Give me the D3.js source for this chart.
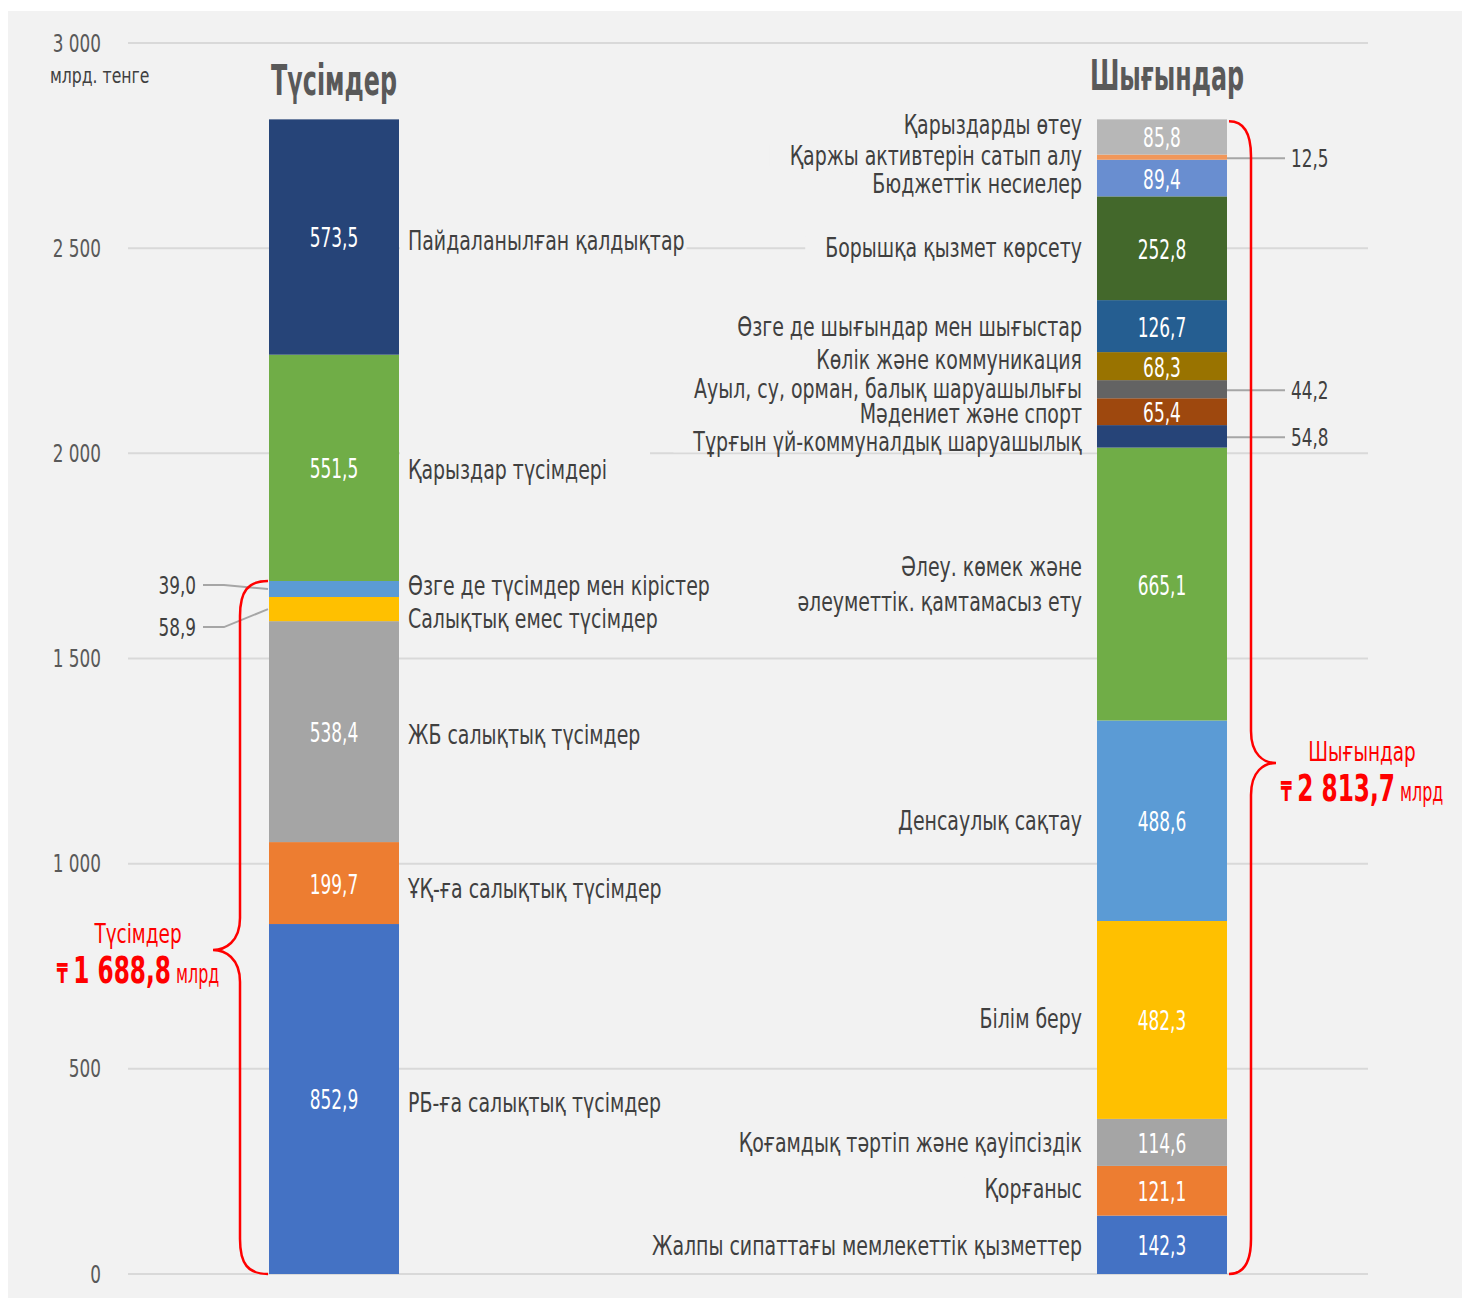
<!DOCTYPE html>
<html>
<head>
<meta charset="utf-8">
<script src="https://cdn.jsdelivr.net/npm/d3@7"></script>
<style>
  body { margin: 0; background: #fff; }
  text { font-family: "DejaVu Sans Condensed", "DejaVu Sans", sans-serif; }
</style>
</head>
<body>
<script>
var yTicks = [0, 500, 1000, 1500, 2000, 2500, 3000];
var barNames = ["Түсімдер", "Шығындар"];
var totals = [1688.8, 2813.7];

// revenues, bottom to top
var revenueLabels = ["РБ-ға салықтық түсімдер", "ҰҚ-ға салықтық түсімдер", "ЖБ салықтық түсімдер",
  "Салықтық емес түсімдер", "Өзге де түсімдер мен кірістер", "Қарыздар түсімдері", "Пайдаланылған қалдықтар"];
var revenueValues = [852.9, 199.7, 538.4, 58.9, 39.0, 551.5, 573.5];
var revenueColors = ["#4472c4", "#ed7d31", "#a5a5a5", "#ffc000", "#5b9bd5", "#70ad47", "#264478"];

// expenses, bottom to top
var expenseLabels = ["Жалпы сипаттағы мемлекеттік қызметтер", "Қорғаныс", "Қоғамдық тәртіп және қауіпсіздік",
  "Білім беру", "Денсаулық сақтау", "Әлеу. көмек және|әлеуметтік. қамтамасыз ету",
  "Тұрғын үй-коммуналдық шаруашылық", "Мәдениет және спорт", "Ауыл, су, орман, балық шаруашылығы",
  "Көлік және коммуникация", "Өзге де шығындар мен шығыстар", "Борышқа қызмет көрсету",
  "Бюджеттік несиелер", "Қаржы активтерін сатып алу", "Қарыздарды өтеу"];
var expenseValues = [142.3, 121.1, 114.6, 482.3, 488.6, 665.1, 54.8, 65.4, 44.2, 68.3, 126.7, 252.8, 89.4, 12.5, 85.8];
var expenseColors = ["#4472c4", "#ed7d31", "#a5a5a5", "#ffc000", "#5b9bd5", "#70ad47", "#264478",
  "#9e480e", "#636363", "#997300", "#255e91", "#43682b", "#698ed0", "#f1975a", "#b7b7b7"];

// small nudges (px) so labels don't collide
var revenueLabelShift = [4, 5, 3, 9, -3, 2, 4];
var expenseLabelShift = [1, -2, 0, -1, 0, 0, 5, 2, -1, -7, 0, -1, 5, -2, -12];
var revenueValueShift = [0, 0, 0, 18, -4, 0, 0];

var W = 1464, H = 1301;
var locale = d3.formatLocale({ decimal: ",", thousands: "\u00a0", grouping: [3], currency: ["", ""] });
var fmtVal = locale.format(".1f");
var fmtTick = locale.format(",.0f");

var svg = d3.select("body").append("svg").attr("width", W).attr("height", H);

svg.append("rect").attr("x", 8).attr("y", 11).attr("width", 1454).attr("height", 1287).attr("fill", "#f2f2f2");

var y = d3.scaleLinear().domain([0, 3000]).range([1274, 43]);
var x = d3.scalePoint().domain(barNames).range([334, 1162]);
var barW = 130;

// the source font is a narrow one, so squeeze DejaVu horizontally
function txt(parent, px, py, str, size, sx, anchor, fill, weight) {
  return parent.append("text")
    .attr("transform", "translate(" + px + "," + py + ") scale(" + sx + ",1)")
    .attr("dy", "0.35em")
    .attr("text-anchor", anchor || "start")
    .attr("font-size", size)
    .attr("font-weight", weight || "normal")
    .attr("fill", fill || "#404040")
    .text(str);
}

// gridlines
svg.append("g").selectAll("line").data(yTicks).enter().append("line")
  .attr("x1", 128).attr("x2", 1368)
  .attr("y1", function (d) { return y(d); }).attr("y2", function (d) { return y(d); })
  .attr("stroke", "#d9d9d9").attr("stroke-width", 2);

// y axis labels
var yAxis = d3.axisLeft(y).tickValues(yTicks).tickFormat(fmtTick).tickSize(0).tickPadding(0);
var axisG = svg.append("g").attr("transform", "translate(101,0)").call(yAxis);
axisG.select(".domain").remove();
axisG.selectAll("text").attr("font-size", 25).attr("fill", "#595959")
  .attr("transform", "scale(0.75,1)")
  .attr("font-family", "DejaVu Sans Condensed, DejaVu Sans, sans-serif");

txt(svg, 50, 76, "млрд. тенге", 21, 0.83);

function stackUp(values) {
  var acc = 0;
  return values.map(function (v) { var s = { y0: acc, y1: acc + v, v: v }; acc += v; return s; });
}
function mid(d) { return (y(d.y0) + y(d.y1)) / 2; }

function drawBar(name, values, colors) {
  var segs = stackUp(values);
  var cx = x(name);
  var g = svg.append("g");
  g.selectAll("rect").data(segs).enter().append("rect")
    .attr("x", cx - barW / 2).attr("width", barW)
    .attr("y", function (d) { return y(d.y1); })
    .attr("height", function (d) { return y(d.y0) - y(d.y1); })
    .attr("fill", function (d, i) { return colors[i]; });
  segs.forEach(function (d) {
    if (d.v < 60) return;
    txt(g, cx, mid(d) + 1, fmtVal(d.v), 27, 0.7, "middle", "#fff");
  });
  return segs;
}

var revSegs = drawBar("Түсімдер", revenueValues, revenueColors);
var expSegs = drawBar("Шығындар", expenseValues, expenseColors);

var catSize = 27, catScale = 0.78;

// revenue category labels (left aligned, right of bar)
revSegs.forEach(function (d, i) {
  var cy = mid(d) + revenueLabelShift[i];
  var t = txt(svg, 408, cy, revenueLabels[i], catSize, catScale);
  var w = t.node().getComputedTextLength() * catScale;
  svg.insert("rect", function () { return t.node(); })
    .attr("x", 400).attr("y", cy - 19).attr("width", Math.max(w + 10, 250)).attr("height", 38)
    .attr("fill", "#f2f2f2");
});

// expense category labels (right aligned, left of bar)
var labelRight = 1082;
expSegs.forEach(function (d, i) {
  var cy = mid(d) + expenseLabelShift[i];
  var lines = expenseLabels[i].split("|");
  lines.forEach(function (l, k) {
    var ly = cy + (k - (lines.length - 1) / 2) * 35;
    var t = txt(svg, labelRight, ly, l, catSize, catScale, "end");
    if (lines.length === 1) {
      var w = t.node().getComputedTextLength() * catScale;
      svg.insert("rect", function () { return t.node(); })
        .attr("x", labelRight - w - 20).attr("y", ly - 11).attr("width", w + 35).attr("height", 22)
        .attr("fill", "#f2f2f2");
    }
  });
});

// small revenue values with leader lines on the left
var leftEdge = x("Түсімдер") - barW / 2 - 1;
revSegs.forEach(function (d, i) {
  if (d.v >= 60) return;
  var ty = mid(d) + revenueValueShift[i];
  svg.append("path").attr("d", "M203," + ty + "L224," + ty + "L" + leftEdge + "," + mid(d))
    .attr("fill", "none").attr("stroke", "#a6a6a6").attr("stroke-width", 2);
  txt(svg, 196, ty, fmtVal(d.v), 25, 0.75, "end");
});

// small expense values with leader lines on the right
var rightEdge = x("Шығындар") + barW / 2;
expSegs.forEach(function (d) {
  if (d.v >= 60) return;
  var ty = mid(d) + 1;
  svg.append("line").attr("x1", rightEdge).attr("x2", 1285).attr("y1", ty).attr("y2", ty)
    .attr("stroke", "#a6a6a6").attr("stroke-width", 2);
  txt(svg, 1291, ty, fmtVal(d.v), 25, 0.75, "start");
});

// titles
txt(svg, x("Түсімдер"), 80, barNames[0], 42, 0.63, "middle", "#595959", "bold");
txt(svg, x("Шығындар") + 5, 75, barNames[1], 42, 0.63, "middle", "#595959", "bold");

// braces
function brace(xEdge, xLine, xTip, top, bottom, tip) {
  var s = xLine < xEdge ? 1 : -1;
  return "M" + xEdge + "," + top +
    "C" + (xLine + s * 8) + "," + top + " " + xLine + "," + (top + 10) + " " + xLine + "," + (top + 35) +
    "L" + xLine + "," + (tip - 32) +
    "C" + xLine + "," + (tip - 8) + " " + (xTip + s * 12) + "," + tip + " " + xTip + "," + tip +
    "C" + (xTip + s * 12) + "," + tip + " " + xLine + "," + (tip + 8) + " " + xLine + "," + (tip + 32) +
    "L" + xLine + "," + (bottom - 35) +
    "C" + xLine + "," + (bottom - 10) + " " + (xLine + s * 8) + "," + bottom + " " + xEdge + "," + bottom;
}
var revTop = y(d3.sum(revenueValues.slice(0, 5)));
svg.append("path").attr("d", brace(268, 240, 213, revTop, y(0), 950))
  .attr("fill", "none").attr("stroke", "#ff0000").attr("stroke-width", 2.5);
svg.append("path").attr("d", brace(1229, 1251, 1276, y(d3.sum(expenseValues)) + 2, y(0), 763))
  .attr("fill", "none").attr("stroke", "#ff0000").attr("stroke-width", 2.5);

function totalLabel(cx, cyName, name, total) {
  txt(svg, cx, cyName, name, 27, 0.76, "middle", "#ff0000");
  var t = txt(svg, cx, cyName + 40, "", 26, 0.68, "middle", "#ff0000");
  t.append("tspan").attr("font-weight", "bold").text("₸ ");
  t.append("tspan").attr("font-size", 38).attr("font-weight", "bold")
    .text(fmtTick(Math.floor(total)) + "," + Math.round((total % 1) * 10));
  t.append("tspan").text(" млрд");
}
totalLabel(138, 934, barNames[0], totals[0]);
totalLabel(1362, 752, barNames[1], totals[1]);
</script>
</body>
</html>
